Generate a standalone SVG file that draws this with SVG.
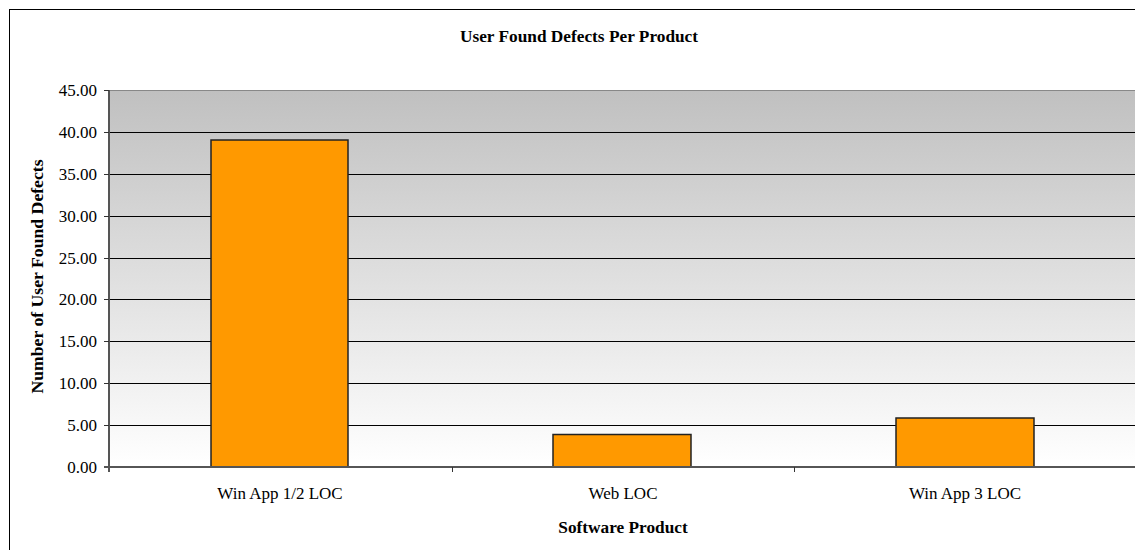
<svg xmlns="http://www.w3.org/2000/svg" width="1135" height="550" viewBox="0 0 1135 550">
  <defs>
    <linearGradient id="plotFill" x1="0" y1="0" x2="0" y2="1">
      <stop offset="0" stop-color="#c0c0c0"/>
      <stop offset="1" stop-color="#ffffff"/>
    </linearGradient>
  </defs>
  <style>
    .grid { stroke: #000; stroke-width: 1; }
    .axis { stroke: #555; stroke-width: 2; fill: none; }
    .tick { stroke: #333; stroke-width: 1; }
    .bar { fill: #ff9900; stroke: #222; stroke-width: 1.5; }
    .val { font-family: "Liberation Serif", "Times New Roman", serif; font-size: 17px; fill: #000; text-anchor: end; }
    .cat { font-family: "Liberation Serif", "Times New Roman", serif; font-size: 17px; fill: #000; text-anchor: middle; }
    .ttl { font-family: "Liberation Serif", "Times New Roman", serif; font-size: 17.3px; font-weight: bold; fill: #000; text-anchor: middle; }
  </style>

  <rect width="1135" height="550" fill="#fff"/>
  <!-- chart frame (continues past the canvas edge) -->
  <rect x="9.5" y="9.5" width="1140" height="560" fill="none" stroke="#000" stroke-width="1"/>

  <text class="ttl" x="579" y="42">User Found Defects Per Product</text>

  <!-- plot area -->
  <g id="plot">
    <rect x="109" y="90" width="1030" height="377" fill="url(#plotFill)"/>
    <line x1="109" y1="90.5" x2="1135" y2="90.5" stroke="#888" stroke-width="1"/>
    <g class="grid">
      <line x1="109" y1="132.5" x2="1135" y2="132.5"/>
      <line x1="109" y1="174.5" x2="1135" y2="174.5"/>
      <line x1="109" y1="216.5" x2="1135" y2="216.5"/>
      <line x1="109" y1="258.5" x2="1135" y2="258.5"/>
      <line x1="109" y1="299.5" x2="1135" y2="299.5"/>
      <line x1="109" y1="341.5" x2="1135" y2="341.5"/>
      <line x1="109" y1="383.5" x2="1135" y2="383.5"/>
      <line x1="109" y1="425.5" x2="1135" y2="425.5"/>
    </g>
  </g>

  <!-- bars -->
  <g id="bar-winapp12">
    <rect class="bar" x="211" y="140" width="137" height="327"/>
  </g>
  <g id="bar-web">
    <rect class="bar" x="553" y="434.5" width="138" height="32.5"/>
  </g>
  <g id="bar-winapp3">
    <rect class="bar" x="896" y="418" width="138" height="49"/>
  </g>

  <!-- axes -->
  <g id="axes">
    <line class="axis" x1="109" y1="90" x2="109" y2="472"/>
    <line class="axis" x1="104" y1="467" x2="1135" y2="467"/>
    <g class="tick">
      <line x1="104" y1="90.5" x2="109" y2="90.5"/>
      <line x1="104" y1="132.5" x2="109" y2="132.5"/>
      <line x1="104" y1="174.5" x2="109" y2="174.5"/>
      <line x1="104" y1="216.5" x2="109" y2="216.5"/>
      <line x1="104" y1="258.5" x2="109" y2="258.5"/>
      <line x1="104" y1="299.5" x2="109" y2="299.5"/>
      <line x1="104" y1="341.5" x2="109" y2="341.5"/>
      <line x1="104" y1="383.5" x2="109" y2="383.5"/>
      <line x1="104" y1="425.5" x2="109" y2="425.5"/>
      <line x1="452.5" y1="467" x2="452.5" y2="472"/>
      <line x1="794.5" y1="467" x2="794.5" y2="472"/>
    </g>
  </g>

  <!-- value labels -->
  <g id="y-labels">
    <text class="val" x="97" y="96">45.00</text>
    <text class="val" x="97" y="138">40.00</text>
    <text class="val" x="97" y="180">35.00</text>
    <text class="val" x="97" y="222">30.00</text>
    <text class="val" x="97" y="264">25.00</text>
    <text class="val" x="97" y="305">20.00</text>
    <text class="val" x="97" y="347">15.00</text>
    <text class="val" x="97" y="389">10.00</text>
    <text class="val" x="97" y="431">5.00</text>
    <text class="val" x="97" y="473">0.00</text>
  </g>

  <!-- category labels -->
  <g id="x-labels">
    <text class="cat" x="280" y="499">Win App 1/2 LOC</text>
    <text class="cat" x="623" y="499">Web LOC</text>
    <text class="cat" x="965" y="499">Win App 3 LOC</text>
  </g>

  <text class="ttl" x="623" y="533">Software Product</text>
  <text class="ttl" style="font-size:17.7px" transform="translate(43,276.5) rotate(-90)">Number of User Found Defects</text>
</svg>
